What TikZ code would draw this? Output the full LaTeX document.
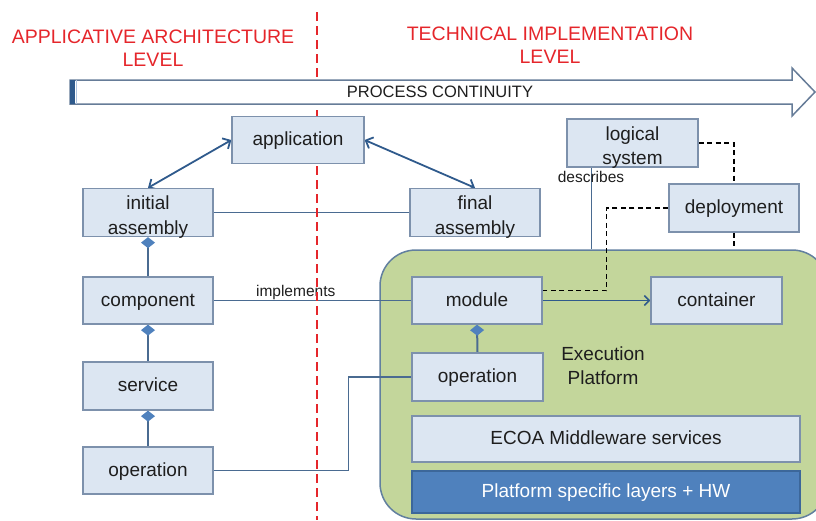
\documentclass[tikz,border=0pt]{standalone}
\usepackage{fontspec}
\setmainfont{Liberation Sans}
\usetikzlibrary{arrows.meta,calc}
\definecolor{boxfill}{HTML}{DCE6F2}
\definecolor{boxline}{HTML}{7D91AC}
\definecolor{inkblue}{HTML}{2F5A8C}
\definecolor{linkblue}{HTML}{4A6B91}
\definecolor{diamondblue}{HTML}{4F81BD}
\definecolor{panelgreen}{HTML}{C3D69B}
\definecolor{panelline}{HTML}{62809F}
\definecolor{layerblue}{HTML}{4F81BD}
\definecolor{layerline}{HTML}{3C679A}
\definecolor{levelred}{HTML}{E5262B}
\definecolor{arrowline}{HTML}{667C98}
\definecolor{textgray}{HTML}{1E1E1E}
\pgfdeclarelayer{bg}
\pgfsetlayers{bg,main}

\begin{document}
\begin{tikzpicture}[x=1pt,y=-1pt,
  box/.style={draw=boxline, fill=boxfill, line width=1.3pt, minimum width=130pt,
    minimum height=48pt, inner sep=1pt, align=center, text=textgray,
    font=\fontsize{19}{24.5}\selectfont, text height=15pt, text depth=4pt},
  twoline/.style={text height=45.5pt, text depth=2.5pt, inner sep=0pt},
  level/.style={text=levelred, align=center, font=\fontsize{19.5}{23}\selectfont},
  small/.style={text=textgray, font=\fontsize{15.5}{18}\selectfont, inner sep=0pt},
  link/.style={draw=linkblue, line width=1.2pt},
  assoc/.style={draw=inkblue, line width=1.8pt,
    {Straight Barb[length=6pt,width=12pt]}-{Straight Barb[length=6pt,width=12pt]}},
  comp/.style={draw=linkblue, line width=2pt,
    -{Diamond[length=11pt,width=14pt,color=diamondblue,fill=diamondblue]}},
  deploylink/.style={draw=black, line width=1.3pt, dash pattern=on 5pt off 3.5pt},
]
\useasboundingbox (0,0) rectangle (816,520);

% execution platform panel (behind everything)
\begin{pgfonlayer}{bg}
\node[draw=panelline, fill=panelgreen, line width=1.5pt, rounded corners=36pt,
  minimum width=448pt, minimum height=269pt, inner sep=0pt] (platform) at (604,384.5) {};
\end{pgfonlayer}

% level titles
\node[level] (archlevel) at (153,48.5) {APPLICATIVE ARCHITECTURE\\LEVEL};
\node[level] (techlevel) at (550,45) {TECHNICAL IMPLEMENTATION\\LEVEL};

% process continuity arrow
\draw[draw=arrowline, fill=white, line width=1.5pt, line join=miter]
  (70,80) -- (792,80) -- (792,68) -- (815,92) -- (792,116) -- (792,104) -- (70,104) -- cycle;
\fill[inkblue] (70,80) rectangle (75,104);
\draw[draw=diamondblue!45, line width=1.2pt] (76.6,80) -- (76.6,104);
\node[font=\fontsize{16.5}{20}\selectfont, text=textgray] (process) at (440,92) {PROCESS CONTINUITY};

% applicative architecture boxes
\node[box, minimum width=132pt, minimum height=47pt] (app) at (298,140) {application};
\node[box, twoline] (initial) at (148,212.5) {initial\\assembly};
\node[box, twoline] (final) at (475,212.5) {final\\assembly};
\node[box, minimum height=47pt] (component) at (148,300.5) {component};
\node[box] (service) at (148,386) {service};
\node[box, minimum height=47pt] (opL) at (148,470.5) {operation};

% technical implementation boxes
\node[box, twoline, minimum width=131pt] (logical) at (632.5,143) {logical\\system};
\node[box] (deployment) at (734,208) {deployment};
\node[box, minimum height=47pt] (module) at (477,300.5) {module};
\node[box, minimum width=131pt, minimum height=47pt] (container) at (716.5,300.5) {container};
\node[box, minimum width=131pt] (opR) at (477.5,377) {operation};
\node[text=textgray, align=center, font=\fontsize{19}{24}\selectfont,
  text height=40pt, text depth=4pt] (exec) at (603,366) {Execution\\Platform};
\node[box, minimum width=388pt, minimum height=46pt] (ecoa) at (606,439) {ECOA Middleware services};
\node[box, draw=layerline, fill=layerblue, text=white, minimum width=388pt,
  minimum height=42pt] (layers) at (606,492) {Platform specific layers + HW};

% connectors
\begin{pgfonlayer}{bg}
\draw[assoc] (initial.north) -- (app.west);
\draw[assoc] (app.east) -- (final.north);
\draw[link] (initial) -- (final);
\draw[comp] (component.north) -- (initial.south);
\draw[comp] (service.north) -- (component.south);
\draw[comp] (opL.north) -- (service.south);
\draw[comp] (opR.north) -- (module.south);
\draw[link] (component) -- node[small, pos=0.415, above=0.5pt] (implements) {implements} (module);
\draw[draw=inkblue, line width=1.5pt, -{Straight Barb[length=5pt,width=10pt]}] (module) -- (container);
\draw[link] (opL.east) -- ++(135,0) |- (opR.west);

\coordinate (descfoot) at ($(logical.south west)!0.19!(logical.south east)$);
\draw[link] (descfoot) -- (descfoot |- platform.north);
\node[small] (describes) at (591,177) {describes};

\draw[deploylink] (logical.east) -| (deployment.north);
\coordinate (moddash) at ($(module.north east)!0.3!(module.south east)$);
\draw[deploylink] (deployment.west) -| ($(moddash)+(64,0)$) -- (moddash);
\draw[deploylink] (deployment.south) -- (deployment.south |- platform.north);

% boundary between the two levels
\draw[levelred, line width=2pt, dash pattern=on 9pt off 5pt] (316.5,12) -- (316.5,520);
\end{pgfonlayer}
\end{tikzpicture}
\end{document}
